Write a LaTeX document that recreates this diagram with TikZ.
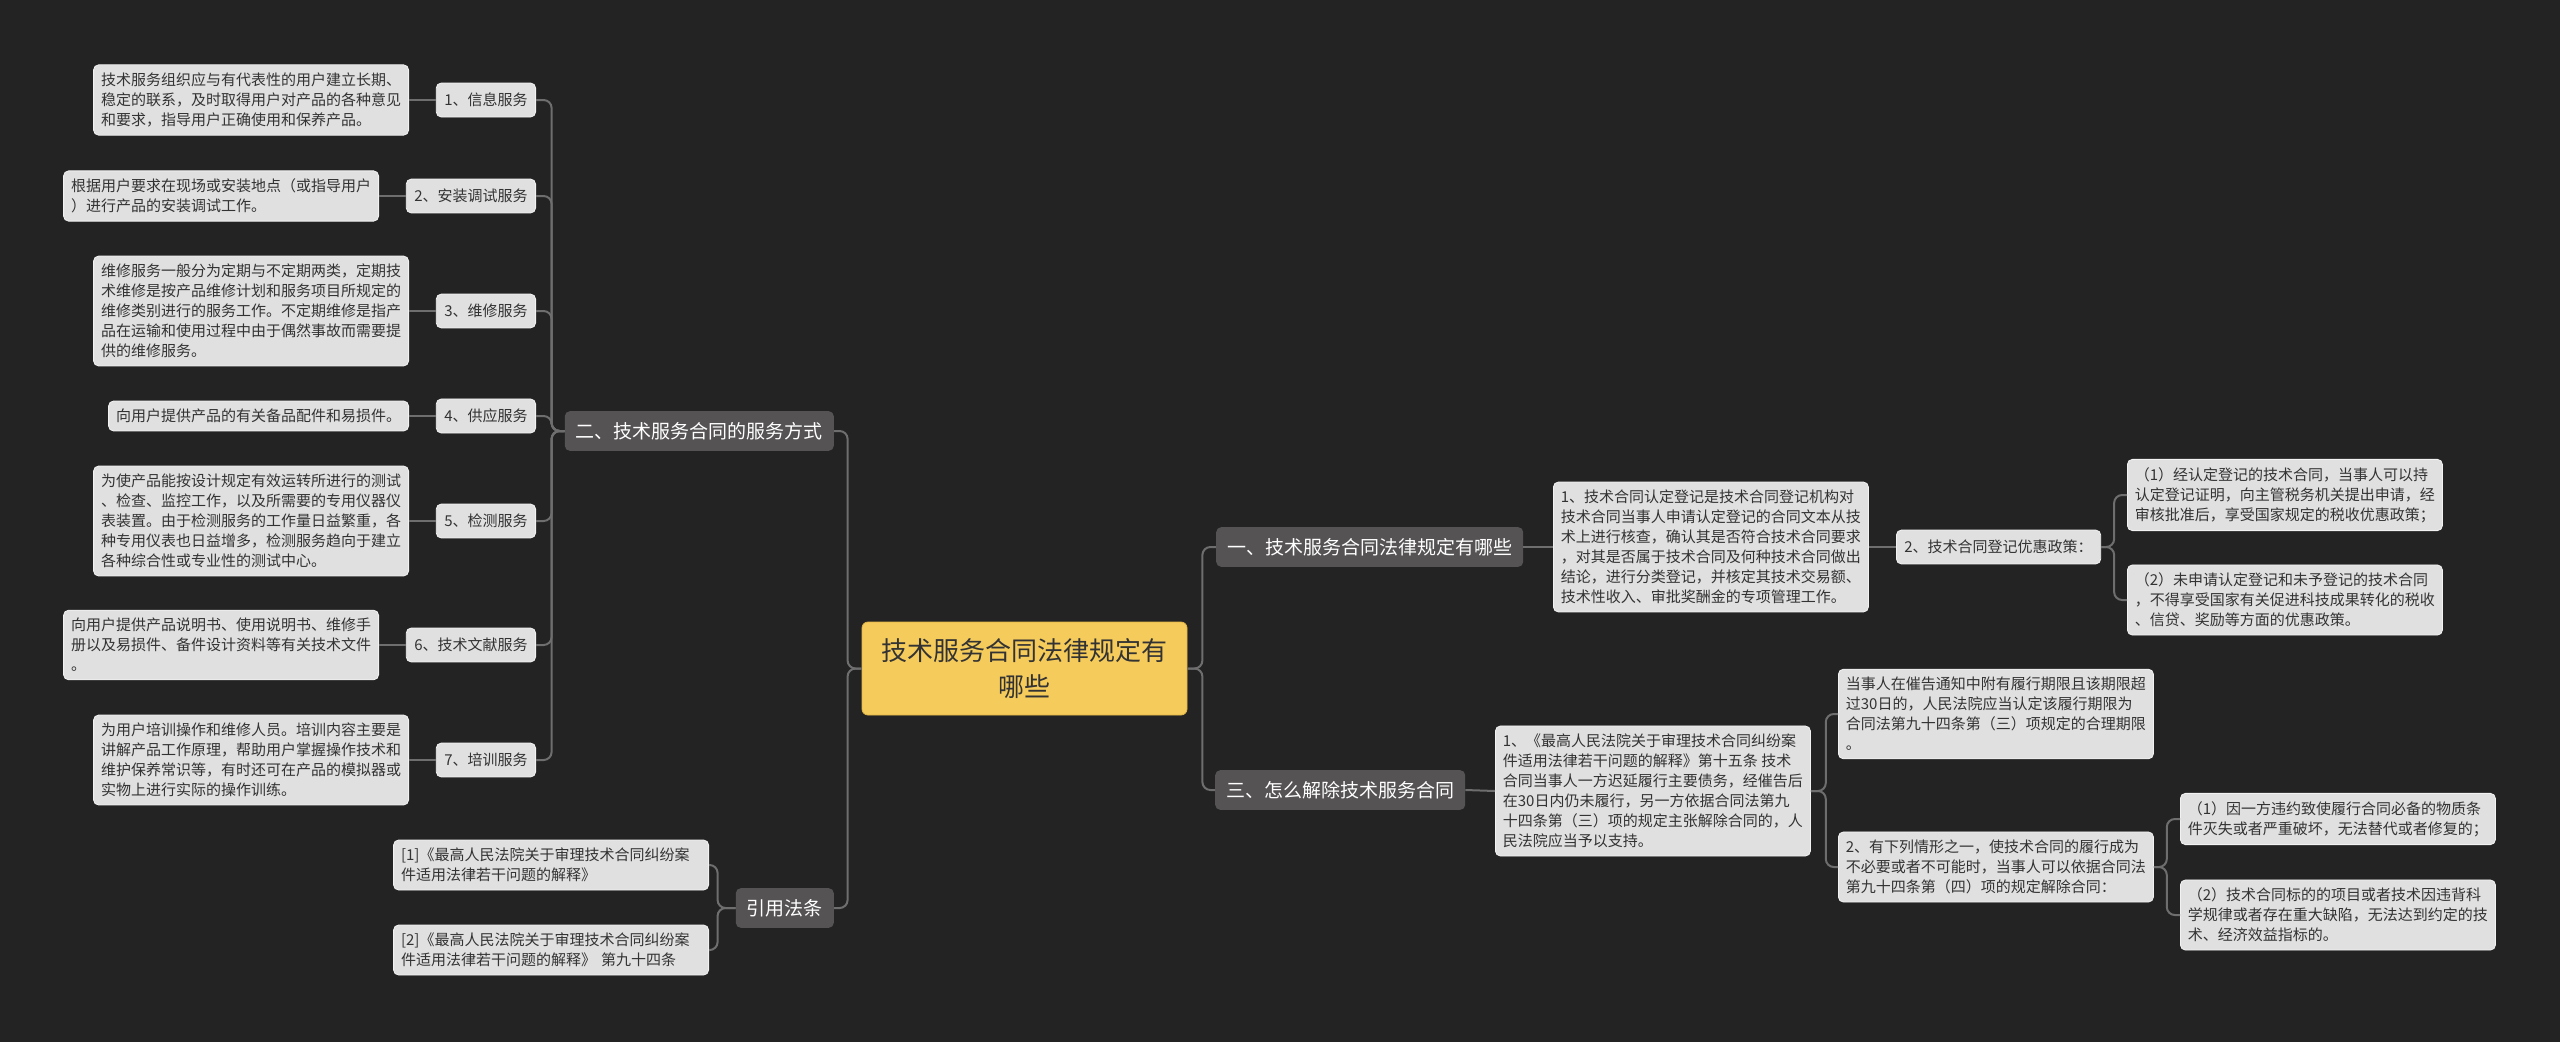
\documentclass[tikz,border=0pt]{standalone}
\usepackage{fontspec}
\newfontfamily\cjk{Noto Sans CJK SC}
\definecolor{bg}{HTML}{232323}
\definecolor{linec}{HTML}{6E6E6E}
\definecolor{leaffill}{HTML}{E0E0E0}
\definecolor{leafedge}{HTML}{F2F2F2}
\definecolor{leaftext}{HTML}{333333}
\definecolor{branchfill}{HTML}{555353}
\definecolor{rootfill}{HTML}{F5CB5C}
\definecolor{rootedge}{HTML}{E2B647}
\begin{document}
\begin{tikzpicture}[x=1pt,y=-1pt,
  leaf/.style={draw=leafedge, line width=0.8pt, fill=leaffill, rounded corners=5pt, text=leaftext,
    font=\cjk\fontsize{15pt}{20pt}\selectfont, align=left, inner xsep=7.5pt, inner ysep=8pt},
  subn/.style={leaf, inner xsep=8pt, inner ysep=10pt},
  branch/.style={fill=branchfill, rounded corners=5pt, text=white,
    font=\cjk\fontsize{19pt}{24pt}\selectfont, inner xsep=11pt, inner ysep=11pt},
  rootn/.style={draw=rootedge, line width=0.8pt, fill=rootfill, rounded corners=6pt, text=leaftext,
    font=\cjk\fontsize{26pt}{36pt}\selectfont, align=center, minimum width=325pt, minimum height=93pt},
  conn/.style={draw=linec, line width=2pt, rounded corners=8pt},
]
\fill[bg] (0,0) rectangle (2560,1042);
\useasboundingbox (0,0) rectangle (2560,1042);

% root
\node[rootn] (root) at (1024.5,668.5) {技术服务合同法律规定有\\哪些};

% left branches
\node[branch, anchor=east] (b2) at (834,431) {二、技术服务合同的服务方式};
\node[branch, anchor=east] (bref) at (834,908) {引用法条};

% right branches
\node[branch, anchor=west] (b1) at (1216,547) {一、技术服务合同法律规定有哪些};
\node[branch, anchor=west] (b3) at (1215,790) {三、怎么解除技术服务合同};

% level 2 left
\node[subn, anchor=east] (s1) at (536,100) {1、信息服务};
\node[subn, anchor=east] (s2) at (536,196) {2、安装调试服务};
\node[subn, anchor=east] (s3) at (536,311) {3、维修服务};
\node[subn, anchor=east] (s4) at (536,416) {4、供应服务};
\node[subn, anchor=east] (s5) at (536,521) {5、检测服务};
\node[subn, anchor=east] (s6) at (536,645) {6、技术文献服务};
\node[subn, anchor=east] (s7) at (536,760) {7、培训服务};

% leaves left
\node[leaf, anchor=east] (l1) at (409,100) {技术服务组织应与有代表性的用户建立长期、\\稳定的联系，及时取得用户对产品的各种意见\\和要求，指导用户正确使用和保养产品。};
\node[leaf, anchor=east] (l2) at (379,196) {根据用户要求在现场或安装地点（或指导用户\\）进行产品的安装调试工作。};
\node[leaf, anchor=east] (l3) at (409,311) {维修服务一般分为定期与不定期两类，定期技\\术维修是按产品维修计划和服务项目所规定的\\维修类别进行的服务工作。不定期维修是指产\\品在运输和使用过程中由于偶然事故而需要提\\供的维修服务。};
\node[leaf, anchor=east] (l4) at (409,416) {向用户提供产品的有关备品配件和易损件。};
\node[leaf, anchor=east] (l5) at (409,521) {为使产品能按设计规定有效运转所进行的测试\\、检查、监控工作，以及所需要的专用仪器仪\\表装置。由于检测服务的工作量日益繁重，各\\种专用仪表也日益增多，检测服务趋向于建立\\各种综合性或专业性的测试中心。};
\node[leaf, anchor=east] (l6) at (379,645) {向用户提供产品说明书、使用说明书、维修手\\册以及易损件、备件设计资料等有关技术文件\\。};
\node[leaf, anchor=east] (l7) at (409,760) {为用户培训操作和维修人员。培训内容主要是\\讲解产品工作原理，帮助用户掌握操作技术和\\维护保养常识等，有时还可在产品的模拟器或\\实物上进行实际的操作训练。};

% references
\node[leaf, anchor=east, text width=300pt] (r1) at (709,865) {[1]《最高人民法院关于审理技术合同纠纷案\\件适用法律若干问题的解释》};
\node[leaf, anchor=east, text width=300pt] (r2) at (709,950) {[2]《最高人民法院关于审理技术合同纠纷案\\件适用法律若干问题的解释》 第九十四条};

% right: branch 1
\node[leaf, anchor=west] (a1) at (1553,547) {1、技术合同认定登记是技术合同登记机构对\\技术合同当事人申请认定登记的合同文本从技\\术上进行核查，确认其是否符合技术合同要求\\，对其是否属于技术合同及何种技术合同做出\\结论，进行分类登记，并核定其技术交易额、\\技术性收入、审批奖酬金的专项管理工作。};
\node[subn, anchor=west] (a2) at (1896,547) {2、技术合同登记优惠政策：};
\node[leaf, anchor=west] (a21) at (2127,495) {（1）经认定登记的技术合同，当事人可以持\\认定登记证明，向主管税务机关提出申请，经\\审核批准后，享受国家规定的税收优惠政策；};
\node[leaf, anchor=west] (a22) at (2127,600) {（2）未申请认定登记和未予登记的技术合同\\，不得享受国家有关促进科技成果转化的税收\\、信贷、奖励等方面的优惠政策。};

% right: branch 3
\node[leaf, anchor=west] (c1) at (1495,791) {1、《最高人民法院关于审理技术合同纠纷案\\件适用法律若干问题的解释》第十五条 技术\\合同当事人一方迟延履行主要债务，经催告后\\在30日内仍未履行，另一方依据合同法第九\\十四条第（三）项的规定主张解除合同的，人\\民法院应当予以支持。};
\node[leaf, anchor=west] (c11) at (1838,714) {当事人在催告通知中附有履行期限且该期限超\\过30日的，人民法院应当认定该履行期限为\\合同法第九十四条第（三）项规定的合理期限\\。};
\node[leaf, anchor=west] (c12) at (1838,867) {2、有下列情形之一，使技术合同的履行成为\\不必要或者不可能时，当事人可以依据合同法\\第九十四条第（四）项的规定解除合同：};
\node[leaf, anchor=west] (c121) at (2180,819) {（1）因一方违约致使履行合同必备的物质条\\件灭失或者严重破坏，无法替代或者修复的；};
\node[leaf, anchor=west] (c122) at (2180,915) {（2）技术合同标的的项目或者技术因违背科\\学规律或者存在重大缺陷，无法达到约定的技\\术、经济效益指标的。};

% connectors
\draw[conn] (root.west) -- ++(-14,0) |- (b2.east);
\draw[conn] (root.west) -- ++(-14,0) |- (bref.east);
\draw[conn] (root.east) -- ++(15,0) |- (b1.west);
\draw[conn] (root.east) -- ++(15,0) |- (b3.west);

\foreach \s in {s1,s2,s3,s4,s5,s6,s7}{
  \draw[conn] (b2.west) -- ++(-13,0) |- (\s.east);
}
\draw[conn] (s1.west) -- (l1.east);
\draw[conn] (s2.west) -- (l2.east);
\draw[conn] (s3.west) -- (l3.east);
\draw[conn] (s4.west) -- (l4.east);
\draw[conn] (s5.west) -- (l5.east);
\draw[conn] (s6.west) -- (l6.east);
\draw[conn] (s7.west) -- (l7.east);

\draw[conn] (bref.west) -- ++(-18,0) |- (r1.east);
\draw[conn] (bref.west) -- ++(-18,0) |- (r2.east);

\draw[conn] (b1.east) -- (a1.west);
\draw[conn] (a1.east) -- (a2.west);
\draw[conn] (a2.east) -- ++(13,0) |- (a21.west);
\draw[conn] (a2.east) -- ++(13,0) |- (a22.west);

\draw[conn] (b3.east) -- (c1.west);
\draw[conn] (c1.east) -- ++(15,0) |- (c11.west);
\draw[conn] (c1.east) -- ++(15,0) |- (c12.west);
\draw[conn] (c12.east) -- ++(13,0) |- (c121.west);
\draw[conn] (c12.east) -- ++(13,0) |- (c122.west);
\end{tikzpicture}
\end{document}
